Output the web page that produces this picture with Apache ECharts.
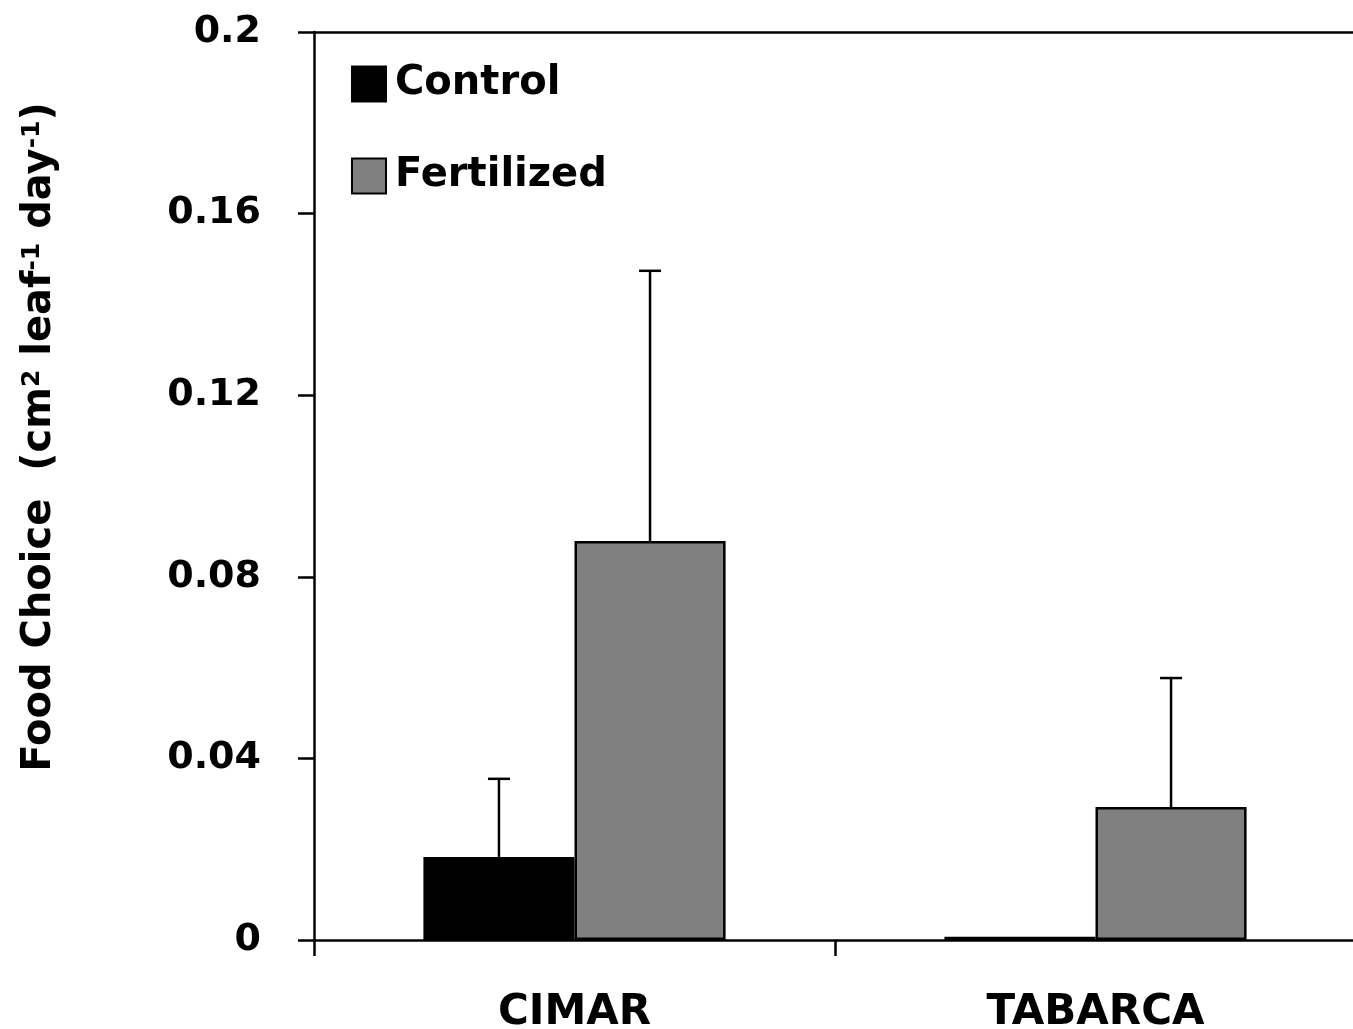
<!DOCTYPE html>
<html><head><meta charset="utf-8">
<script src="https://cdn.jsdelivr.net/npm/echarts@6/dist/echarts.min.js"></script>
<style>html,body{margin:0;padding:0;background:#fff}#c{width:1353px;height:1029px}</style>
</head><body><div id="c"></div>
<script>
const categories = ['CIMAR', 'TABARCA'];
const controlValues = [0.0183, 0.0007];
const controlErrors = [0.0172, 0];
const fertilizedValues = [0.0879, 0.0293];
const fertilizedErrors = [0.0595, 0.0284];
const yTicks = [0, 0.04, 0.08, 0.12, 0.16, 0.2];

const FONT = 'DejaVu Sans';
const chart = echarts.init(document.getElementById('c'));

function errSeries(name, vals, errs, side) {
  return {
    type: 'custom', name: name + ' err', z: 5, silent: true,
    data: vals.map((v, i) => [i, v, errs[i]]),
    renderItem: function (params, api) {
      const i = api.value(0), v = api.value(1), e = api.value(2);
      if (!e) return null;
      const band = api.size([1, 0])[0];
      const bw = band * 0.58 / 2;
      const c0 = api.coord([i, v]);
      const c1 = api.coord([i, v + e]);
      const x = c0[0] + side * bw / 2;
      const cap = 11;
      const st = { stroke: '#000', lineWidth: 2.5 };
      return { type: 'group', children: [
        { type: 'line', shape: { x1: x, y1: c0[1], x2: x, y2: c1[1] }, style: st },
        { type: 'line', shape: { x1: x - cap, y1: c1[1], x2: x + cap, y2: c1[1] }, style: st }
      ]};
    }
  };
}

chart.setOption({
  animation: false,
  backgroundColor: '#fff',
  grid: { left: 314, top: 32, width: 1042, bottom: 89, containLabel: false, outerBoundsMode: 'none' },
  legend: {
    left: 346, top: 59, orient: 'vertical', itemGap: 52,
    itemWidth: 34, itemHeight: 35, icon: 'rect',
    data: ['Control', 'Fertilized'],
    textStyle: { fontFamily: FONT, fontWeight: 'bold', fontSize: 40, lineHeight: 36, color: '#000', padding: [0, 0, 0, 4] }
  },
  xAxis: [{
    type: 'category', data: categories, position: 'bottom',
    axisLine: { lineStyle: { color: '#000', width: 2.5 } },
    axisTick: { show: true, inside: false, length: 16, lineStyle: { color: '#000', width: 2.5 } },
    axisLabel: { margin: 52, fontFamily: FONT, fontWeight: 'bold', fontSize: 42, color: '#000' },
    splitLine: { show: false }
  }, {
    type: 'category', data: categories, position: 'top',
    axisLine: { show: true, lineStyle: { color: '#000', width: 2.5 } },
    axisTick: { show: false }, axisLabel: { show: false }
  }],
  yAxis: {
    type: 'value', min: yTicks[0], max: yTicks[yTicks.length - 1], interval: 0.04,
    axisLine: { show: true, lineStyle: { color: '#000', width: 2.5 } },
    axisTick: { show: true, inside: false, length: 16, lineStyle: { color: '#000', width: 2.5 } },
    axisLabel: { margin: 53, fontFamily: FONT, fontWeight: 'bold', fontSize: 38, color: '#000',
      formatter: v => String(+v.toFixed(2)) },
    splitLine: { show: false }
  },
  graphic: [{
    type: 'text', rotation: Math.PI / 2,
    x: 40, y: 437,
    style: {
      text: '{n|Food Choice  (cm}{s|2}{n| leaf}{s|-1}{n| day}{s|-1}{n|)}',
      rich: {
        n: { fontFamily: FONT, fontWeight: 'bold', fontSize: 40, fill: '#000' },
        s: { fontFamily: FONT, fontWeight: 'bold', fontSize: 25, fill: '#000', verticalAlign: 'top', padding: [0, 0, 14, 0] }
      },
      align: 'center', verticalAlign: 'middle'
    }
  }],
  series: [{
    name: 'Control', type: 'bar', data: controlValues,
    barGap: '0%', barCategoryGap: '42%',
    itemStyle: { color: '#000', borderColor: '#000', borderWidth: 2 }
  }, {
    name: 'Fertilized', type: 'bar', data: fertilizedValues,
    barGap: '0%', barCategoryGap: '42%',
    itemStyle: { color: '#808080', borderColor: '#000', borderWidth: 2.5 }
  },
  errSeries('Control', controlValues, controlErrors, -1),
  errSeries('Fertilized', fertilizedValues, fertilizedErrors, 1)
  ]
});
</script></body></html>
